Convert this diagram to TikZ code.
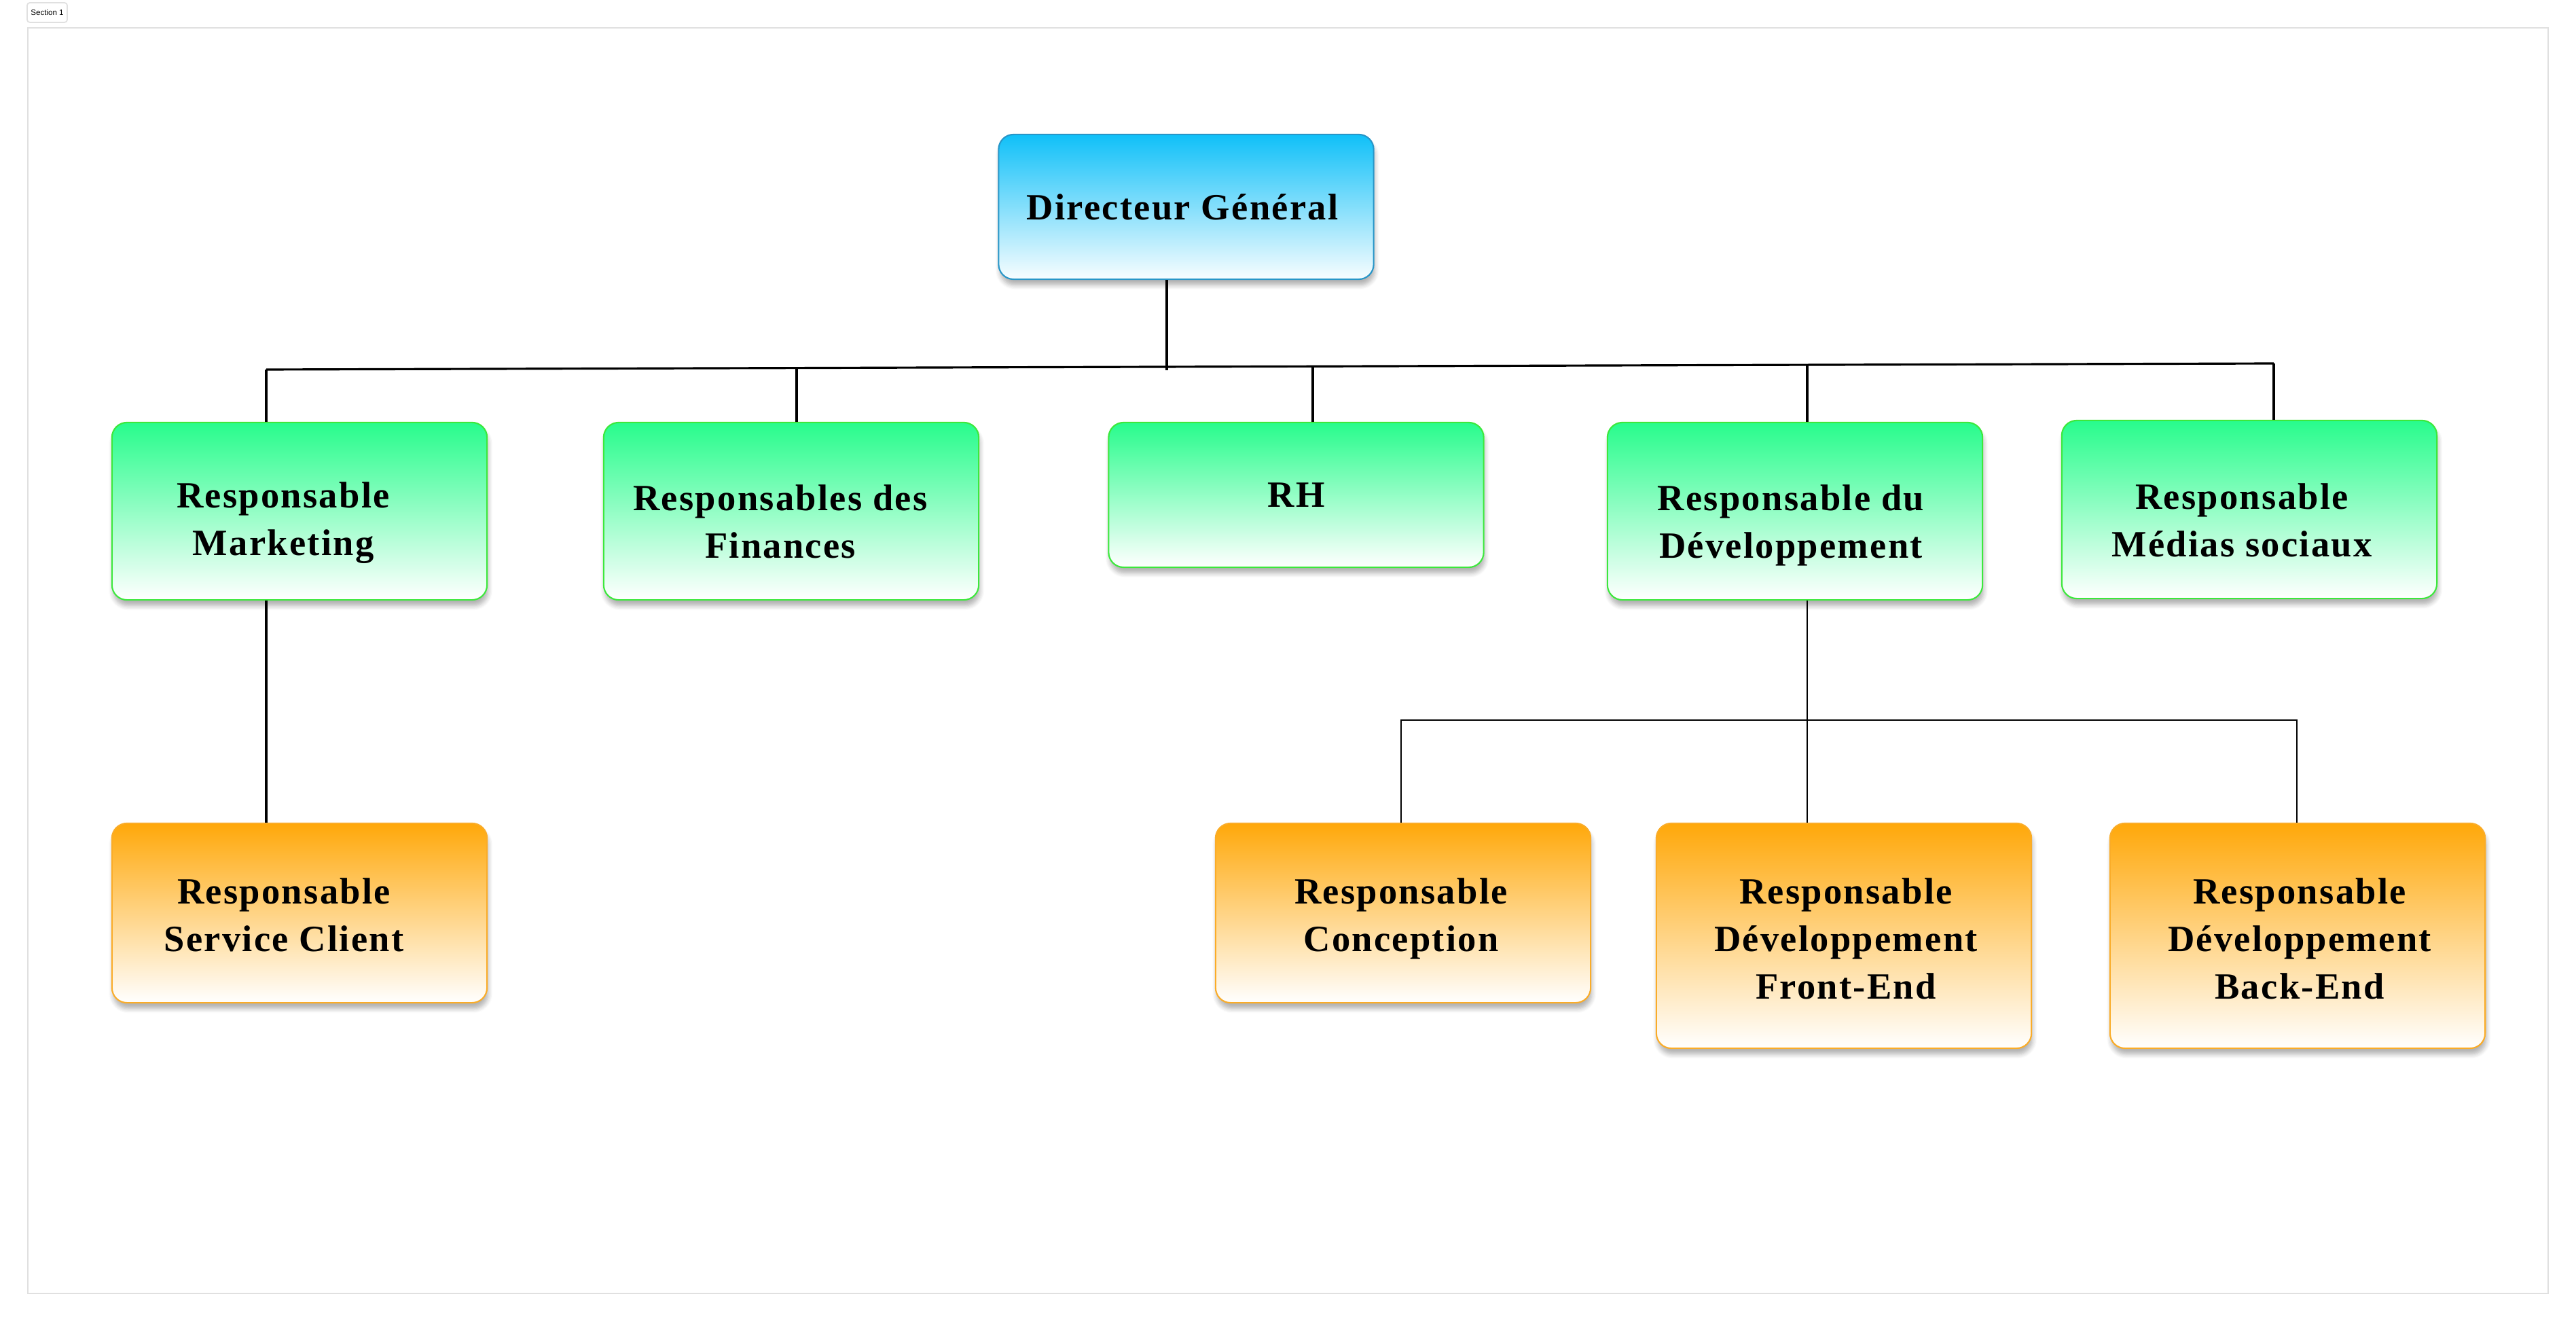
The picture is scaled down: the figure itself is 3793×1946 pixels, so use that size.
\documentclass[tikz,border=0pt]{standalone}
\usepackage{fontspec}
\setmainfont{Liberation Serif}
\newfontfamily\labelfont{Liberation Sans}
\newfontfamily\boxfont[LetterSpace=4.2]{Liberation Serif}
\usetikzlibrary{shadows.blur}
\definecolor{dgblue}{RGB}{16,192,248}
\definecolor{dgborder}{RGB}{40,150,200}
\definecolor{mgreen}{RGB}{40,252,140}
\definecolor{mgborder}{RGB}{60,232,60}
\definecolor{morange}{RGB}{255,168,10}
\definecolor{moborder}{RGB}{250,172,40}
\definecolor{framegray}{RGB}{224,224,224}
\tikzset{
  box/.style={rectangle, rounded corners=0.22cm, line width=0.6pt,
    minimum width=5.52cm,
    blur shadow={shadow xshift=0.5pt, shadow yshift=-2.5pt, shadow blur steps=6, shadow opacity=30}},
  topbox/.style={box, draw=dgborder, top color=dgblue, bottom color=white!97!dgblue},
  greenbox/.style={box, draw=mgborder, top color=mgreen, bottom color=white},
  orangebox/.style={box, draw=moborder, top color=morange, bottom color=white},
  boxtext/.style={align=center, inner sep=0pt, text=black,
    font=\boxfont\bfseries\fontsize{15.5}{19.9}\selectfont},
  conn/.style={draw=black, line width=0.9pt},
  subconn/.style={draw=black, line width=0.7pt},
}
\begin{document}
\begin{tikzpicture}[x=0.01cm, y=-0.01cm]
\useasboundingbox (0,0) rectangle (3793,1946);
% frame and section label
\draw[framegray, line width=0.6pt] (41,41) rectangle (3752,1904);
\node[draw=framegray, line width=0.5pt, rounded corners=0.04cm, fill=white,
  minimum width=0.59cm, minimum height=0.29cm, inner sep=0pt,
  font=\labelfont\fontsize{3.3}{4}\selectfont] (sec) at (69.5,18.5) {Section 1};

% boxes
\node[topbox, minimum height=2.13cm] (dg) at (1746.5,304.5) {};
\node[greenbox, minimum height=2.61cm] (mkt) at (441,752.5) {};
\node[greenbox, minimum height=2.61cm] (fin) at (1165,752.5) {};
\node[greenbox, minimum height=2.13cm] (rh) at (1908.5,728.5) {};
\node[greenbox, minimum height=2.61cm] (dev) at (2643,752.5) {};
\node[greenbox, minimum height=2.62cm] (med) at (3312,750) {};
\node[orangebox, minimum height=2.64cm] (sc) at (441,1344) {};
\node[orangebox, minimum height=2.64cm] (con) at (2066,1344) {};
\node[orangebox, minimum height=3.31cm] (fe) at (2715,1377.5) {};
\node[orangebox, minimum height=3.31cm] (be) at (3383,1377.5) {};

% texts
\node[boxtext] (dgT) at (1741,304.5) {Directeur Général};
\node[boxtext] (mktT) at (417,770) {Responsable\\Marketing};
\node[boxtext] (finT) at (1149,768) {Responsables des\\Finances};
\node[boxtext] (rhT) at (1909,728.5) {RH};
\node[boxtext] (devT) at (2637,773.5) {Responsable du\\Développement};
\node[boxtext] (medT) at (3301,765.5) {Responsable\\Médias sociaux};
\node[boxtext] (scT) at (418,1346.5) {Responsable\\Service Client};
\node[boxtext] (conT) at (2063,1352.5) {Responsable\\Conception};
\node[boxtext] (feT) at (2718,1381.5) {Responsable\\Développement\\Front-End};
\node[boxtext] (beT) at (3386,1381.5) {Responsable\\Développement\\Back-End};

% junction coordinates on the (slightly sloping) bus
\coordinate (jm) at (392,544);
\coordinate (jf) at (1173,541.6);
\coordinate (j0) at (1718,540);
\coordinate (jr) at (1933,539.3);
\coordinate (jv) at (2661,537.1);
\coordinate (js) at (3348,535);
\coordinate (jc) at (2063,1060);
\coordinate (jd) at (2661,1060);
\coordinate (jb) at (3382,1060);

% top level connectors
\draw[conn] (dg.south -| j0) -- ([yshift=-1.5pt]j0);
\draw[conn] (jm) -- (js);
\draw[conn] (jm) -- (jm |- mkt.north);
\draw[conn] (jf) -- (jf |- fin.north);
\draw[conn] (jr) -- (jr |- rh.north);
\draw[conn] (jv) -- (jv |- dev.north);
\draw[conn] (js) -- (js |- med.north);

% marketing -> service client
\draw[conn] (mkt.south -| jm) -- (sc.north -| jm);

% development subtree
\draw[subconn] (dev.south -| jd) -- (fe.north -| jd);
\draw[subconn] (con.north -| jc) -- (jc) -- (jb) -- (be.north -| jb);
\end{tikzpicture}
\end{document}
